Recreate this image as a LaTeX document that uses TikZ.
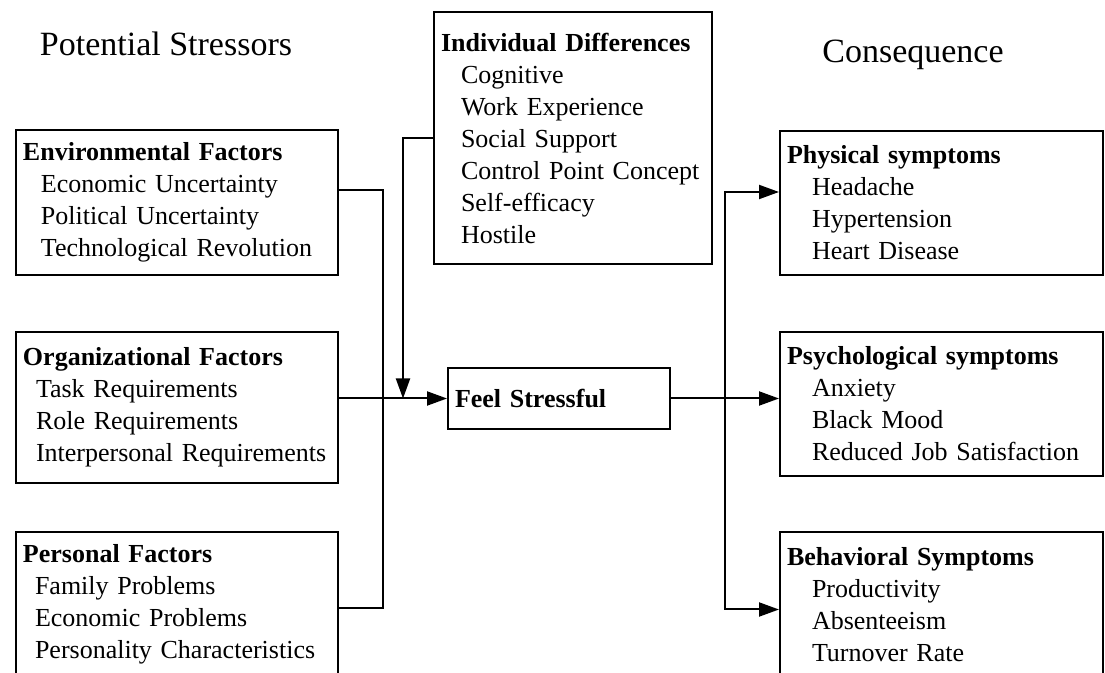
\documentclass[tikz,border=0pt]{standalone}
\usepackage{fontspec}
\setmainfont{Liberation Serif}
\usetikzlibrary{arrows.meta, positioning, calc}

\begin{document}
\begin{tikzpicture}[
  x=0.5pt, y=-0.5pt,
  fbox/.style={draw, line width=1pt, anchor=north west, inner xsep=3.5pt, inner ysep=0pt, align=left, font=\fontsize{13}{16}\selectfont},
  ttl/.style={anchor=base, font=\fontsize{17}{20}\selectfont},
  conn/.style={line width=1pt},
  arr/.style={conn, -{Triangle[length=10pt, width=7pt]}}
]
  \useasboundingbox (0,0) rectangle (1105,673);
  \clip (0,0) rectangle (1105,673);

  \node[ttl] (stressors) at (166,56) {Potential Stressors};
  \node[ttl] (conseq) at (913,63) {Consequence};

  \node[fbox, text width=154pt, minimum height=72.5pt] (env) at (15,129) {
    \textbf{Environmental Factors}\\
    \hspace*{9pt}Economic Uncertainty\\
    \hspace*{9pt}Political Uncertainty\\
    \hspace*{9pt}Technological Revolution
  };
  \node[fbox, text width=154pt, minimum height=75.5pt] (org) at (15,331) {
    \textbf{Organizational Factors}\\
    \hspace*{6.5pt}Task Requirements\\
    \hspace*{6.5pt}Role Requirements\\
    \hspace*{6.5pt}Interpersonal Requirements
  };
  \node[fbox, text width=154pt, minimum height=72.5pt] (pers) at (15,531) {
    \textbf{Personal Factors}\\
    \hspace*{6pt}Family Problems\\
    \hspace*{6pt}Economic Problems\\
    \hspace*{6pt}Personality Characteristics
  };

  \node[fbox, text width=132pt, minimum height=126pt] (ind) at (433,11) {
    \textbf{Individual Differences}\\
    \hspace*{10pt}Cognitive\\
    \hspace*{10pt}Work Experience\\
    \hspace*{10pt}Social Support\\
    \hspace*{10pt}Control Point Concept\\
    \hspace*{10pt}Self-efficacy\\
    \hspace*{10pt}Hostile
  };
  \node[fbox, text width=104pt, minimum height=30.5pt] (fs) at (447,367) {\textbf{Feel Stressful}};

  \node[fbox, text width=154.5pt, minimum height=72pt] (phys) at (779,130) {
    \textbf{Physical symptoms}\\
    \hspace*{12.5pt}Headache\\
    \hspace*{12.5pt}Hypertension\\
    \hspace*{12.5pt}Heart Disease
  };
  \node[fbox, text width=154.5pt, minimum height=72pt] (psych) at (779,331) {
    \textbf{Psychological symptoms}\\
    \hspace*{12.5pt}Anxiety\\
    \hspace*{12.5pt}Black Mood\\
    \hspace*{12.5pt}Reduced Job Satisfaction
  };
  \node[fbox, text width=154.5pt, minimum height=72.5pt] (beh) at (779,531) {
    \textbf{Behavioral Symptoms}\\
    \hspace*{12.5pt}Productivity\\
    \hspace*{12.5pt}Absenteeism\\
    \hspace*{12.5pt}Turnover Rate
  };

  \coordinate (bus) at (383,400);
  \coordinate (merge) at (403,0);
  \coordinate (split) at (725,0);

  \draw[conn] ([yshift=6pt]env.east) -| (bus) |- ([yshift=-2pt]pers.east);
  \draw[arr] (org.east |- fs.west) -- (fs.west);
  \draw[arr] (ind.west) -| (merge |- fs.west);
  \draw[arr] (fs.east) -- (fs.east -| psych.west);
  \draw[arr] (split |- fs.east) |- ([yshift=5.5pt]phys.west);
  \draw[arr] (split |- fs.east) |- ([yshift=-2.5pt]beh.west);
\end{tikzpicture}
\end{document}
